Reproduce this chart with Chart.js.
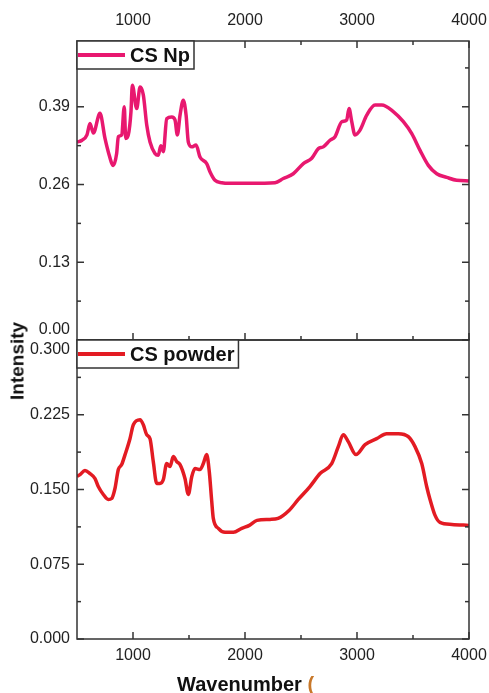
<!DOCTYPE html>
<html>
<head>
<meta charset="utf-8">
<title>FTIR spectra - CS Np / CS powder</title>
<script src="https://cdn.jsdelivr.net/npm/chart.js@4/dist/chart.umd.min.js"></script>
<style>
    body { margin: 0; background: #fff; }
    #wrap { position: relative; width: 489px; height: 693px; overflow: hidden; }
    .axis-title { position: absolute; font: bold 20px "Liberation Sans", Arial, sans-serif; color: #111; white-space: nowrap; line-height: 1; }
    #yTitle { left: 17px; top: 361px; font-size: 19px; transform: translate(-50%, -50%) rotate(-90deg); }
    #xTitle { left: 177px; top: 674px; }
    #xTitle span { color: #c8782a; }
</style>
</head>
<body>
<div id="wrap">
    <canvas id="spectra" width="489" height="693"></canvas>
    <div class="axis-title" id="yTitle">Intensity</div>
    <div class="axis-title" id="xTitle">Wavenumber <span>(</span></div>
</div>
<script>
// x axis (shared by both panels)
const xTicks = [1000, 2000, 3000, 4000];
const xMinorTicks = [1500, 2500, 3500];

// upper panel: nanoparticles
const npTicks = [0, 0.13, 0.26, 0.39];
const npMinorTicks = [0.065, 0.195, 0.325, 0.455];
const npWavenumber = [500, 545, 589, 616, 646, 705, 750, 779, 824, 854, 869, 899, 922, 935, 958, 982, 994, 1033, 1063, 1092,
    1123, 1152, 1196, 1226, 1248, 1271, 1301, 1346, 1375, 1396, 1420, 1449, 1474, 1494, 1525, 1563, 1598, 1658, 1688, 1732,
    1792, 1866, 2045, 2268, 2342, 2431, 2521, 2596, 2655, 2699, 2759, 2804, 2864, 2908, 2929, 2953, 2982, 3027, 3087, 3161,
    3221, 3324, 3414, 3489, 3563, 3637, 3712, 3801, 3890, 4000];
const npIntensity = [0.331, 0.334, 0.343, 0.362, 0.346, 0.379, 0.337, 0.315, 0.292, 0.312, 0.340, 0.343, 0.390, 0.337, 0.343, 0.382, 0.426, 0.387, 0.423, 0.410,
    0.359, 0.331, 0.312, 0.309, 0.325, 0.315, 0.370, 0.373, 0.368, 0.343, 0.376, 0.401, 0.376, 0.331, 0.323, 0.326, 0.306, 0.295, 0.281, 0.267,
    0.263, 0.262, 0.262, 0.263, 0.270, 0.278, 0.295, 0.304, 0.320, 0.323, 0.334, 0.340, 0.365, 0.368, 0.387, 0.365, 0.343, 0.351, 0.376, 0.393,
    0.393, 0.382, 0.365, 0.345, 0.317, 0.292, 0.278, 0.272, 0.267, 0.266];

// lower panel: powder
const powderTicks = [0, 0.075, 0.15, 0.225, 0.3];
const powderMinorTicks = [0.0375, 0.1125, 0.1875, 0.2625];
const powderWavenumber = [500, 527, 571, 616, 661, 690, 735, 779, 810, 839, 869, 899, 929, 973, 1003, 1063, 1092, 1122, 1152, 1181,
    1212, 1241, 1271, 1301, 1330, 1360, 1390, 1420, 1464, 1494, 1525, 1554, 1598, 1628, 1658, 1681, 1703, 1717, 1762, 1822,
    1896, 1971, 2039, 2107, 2223, 2295, 2393, 2476, 2580, 2670, 2774, 2833, 2878, 2922, 2991, 3072, 3176, 3265, 3369, 3458,
    3518, 3578, 3622, 3652, 3697, 3741, 3848, 4000];
const powderIntensity = [0.163, 0.165, 0.169, 0.166, 0.161, 0.153, 0.145, 0.140, 0.141, 0.151, 0.170, 0.175, 0.185, 0.201, 0.215, 0.220, 0.215, 0.205, 0.201, 0.178,
    0.156, 0.156, 0.160, 0.176, 0.173, 0.183, 0.178, 0.175, 0.161, 0.145, 0.163, 0.171, 0.170, 0.176, 0.185, 0.168, 0.138, 0.121, 0.111, 0.107,
    0.107, 0.111, 0.114, 0.119, 0.120, 0.121, 0.129, 0.140, 0.153, 0.166, 0.176, 0.193, 0.205, 0.198, 0.185, 0.195, 0.201, 0.206, 0.206, 0.203,
    0.193, 0.176, 0.153, 0.140, 0.124, 0.117, 0.115, 0.114];

const FONT = '"Liberation Sans", Arial, sans-serif';
const AXIS_COLOR = '#333';
Chart.defaults.font.family = FONT;
Chart.defaults.font.size = 16;
Chart.defaults.color = '#222';

const toPoints = (xs, ys) => xs.map((x, i) => ({ x: x, y: ys[i] }));

// frame, inward ticks (major + minor) and boxed legend for each panel
const panelFrames = {
    id: 'panelFrames',
    afterDatasetsDraw(chart) {
        const ctx = chart.ctx;
        const s = chart.scales;
        const panels = [
            { xs: s.xTop, ys: s.yTop, yMajor: npTicks, yMinor: npMinorTicks, ds: 0, tickTop: true },
            { xs: s.xBottom, ys: s.yBottom, yMajor: powderTicks, yMinor: powderMinorTicks, ds: 1, tickTop: false }
        ];
        ctx.save();
        ctx.strokeStyle = AXIS_COLOR;
        ctx.lineWidth = 1.5;
        panels.forEach(p => {
            const l = p.xs.left, r = p.xs.right, t = p.ys.top, b = p.ys.bottom;
            ctx.strokeRect(l, t, r - l, b - t);

            const tick = (x1, y1, x2, y2) => { ctx.beginPath(); ctx.moveTo(x1, y1); ctx.lineTo(x2, y2); ctx.stroke(); };
            const xMarks = (vals, len) => vals.forEach(v => {
                const px = p.xs.getPixelForValue(v);
                tick(px, b, px, b - len);
                if (p.tickTop) tick(px, t, px, t + len);
            });
            const yMarks = (vals, len) => vals.forEach(v => {
                const py = p.ys.getPixelForValue(v);
                tick(l, py, l + len, py);
                tick(r, py, r - len, py);
            });
            xMarks(xTicks, 7);
            xMarks(xMinorTicks, 4);
            yMarks(p.yMajor, 7);
            yMarks(p.yMinor, 4);

            // legend box in the top-left corner of the panel
            const dataset = chart.data.datasets[p.ds];
            ctx.font = 'bold 20px ' + FONT;
            const textX = l + 53;
            const w = 53 + ctx.measureText(dataset.label).width + 4;
            const h = 28;
            ctx.fillStyle = '#fff';
            ctx.fillRect(l, t, w, h);
            ctx.strokeRect(l, t, w, h);
            ctx.save();
            ctx.strokeStyle = dataset.borderColor;
            ctx.lineWidth = 4;
            tick(l + 1, t + h / 2, l + 48, t + h / 2);
            ctx.restore();
            ctx.fillStyle = '#111';
            ctx.textBaseline = 'middle';
            ctx.textAlign = 'left';
            ctx.fillText(dataset.label, textX, t + h / 2 + 1);
        });
        ctx.restore();
    }
};

const xScale = (position, pad, height) => ({
    type: 'linear',
    position: position,
    min: 500,
    max: 4000,
    afterBuildTicks: sc => { sc.ticks = xTicks.map(v => ({ value: v })); },
    afterFit: sc => {
        sc.height = height;
        // keep the plot's right edge fixed; "4000" may spill into the margin
        sc.paddingLeft = 0;
        sc.paddingRight = 20;
    },
    ticks: { padding: pad, maxRotation: 0, autoSkip: false, font: { size: 16, lineHeight: 1.2 }, callback: v => String(v) },
    grid: { display: false, drawTicks: false },
    border: { display: false }
});

const yScale = (ticks, max, weight, label) => ({
    type: 'linear',
    position: 'left',
    stack: 'panels',
    stackWeight: 1,
    weight: weight,
    min: 0,
    max: max,
    afterBuildTicks: sc => { sc.ticks = ticks.map(v => ({ value: v })); },
    afterFit: sc => { sc.width = 77; },
    ticks: { padding: 7, autoSkip: false, font: { size: 16, lineHeight: 1.25 }, callback: label },
    grid: { display: false, drawTicks: false },
    border: { display: false }
});

new Chart(document.getElementById('spectra'), {
    type: 'line',
    data: {
        datasets: [
            {
                label: 'CS Np',
                data: toPoints(npWavenumber, npIntensity),
                xAxisID: 'xTop',
                yAxisID: 'yTop',
                borderColor: '#e8186f',
                borderWidth: 3.5,
                pointRadius: 0,
                cubicInterpolationMode: 'monotone'
            },
            {
                label: 'CS powder',
                data: toPoints(powderWavenumber, powderIntensity),
                xAxisID: 'xBottom',
                yAxisID: 'yBottom',
                borderColor: '#e31b23',
                borderWidth: 3.5,
                pointRadius: 0,
                cubicInterpolationMode: 'monotone'
            }
        ]
    },
    options: {
        responsive: false,
        devicePixelRatio: 1,
        animation: false,
        layout: { padding: { right: 20 } },
        plugins: { legend: { display: false }, tooltip: { enabled: false } },
        scales: {
            xTop: xScale('top', 11, 41),
            xBottom: xScale('bottom', 7, 54),
            // 0.00 of the upper panel sits just above the divider
            yTop: yScale(npTicks, 0.5, 2, (v, i) => i === 0 ? ['0.00', ''] : v.toFixed(2)),
            // 0.300 of the lower panel sits just below it
            yBottom: yScale(powderTicks, 0.3, 1, (v, i, all) => i === all.length - 1 ? ['', '0.300'] : v.toFixed(3))
        }
    },
    plugins: [panelFrames]
});
</script>
</body>
</html>
